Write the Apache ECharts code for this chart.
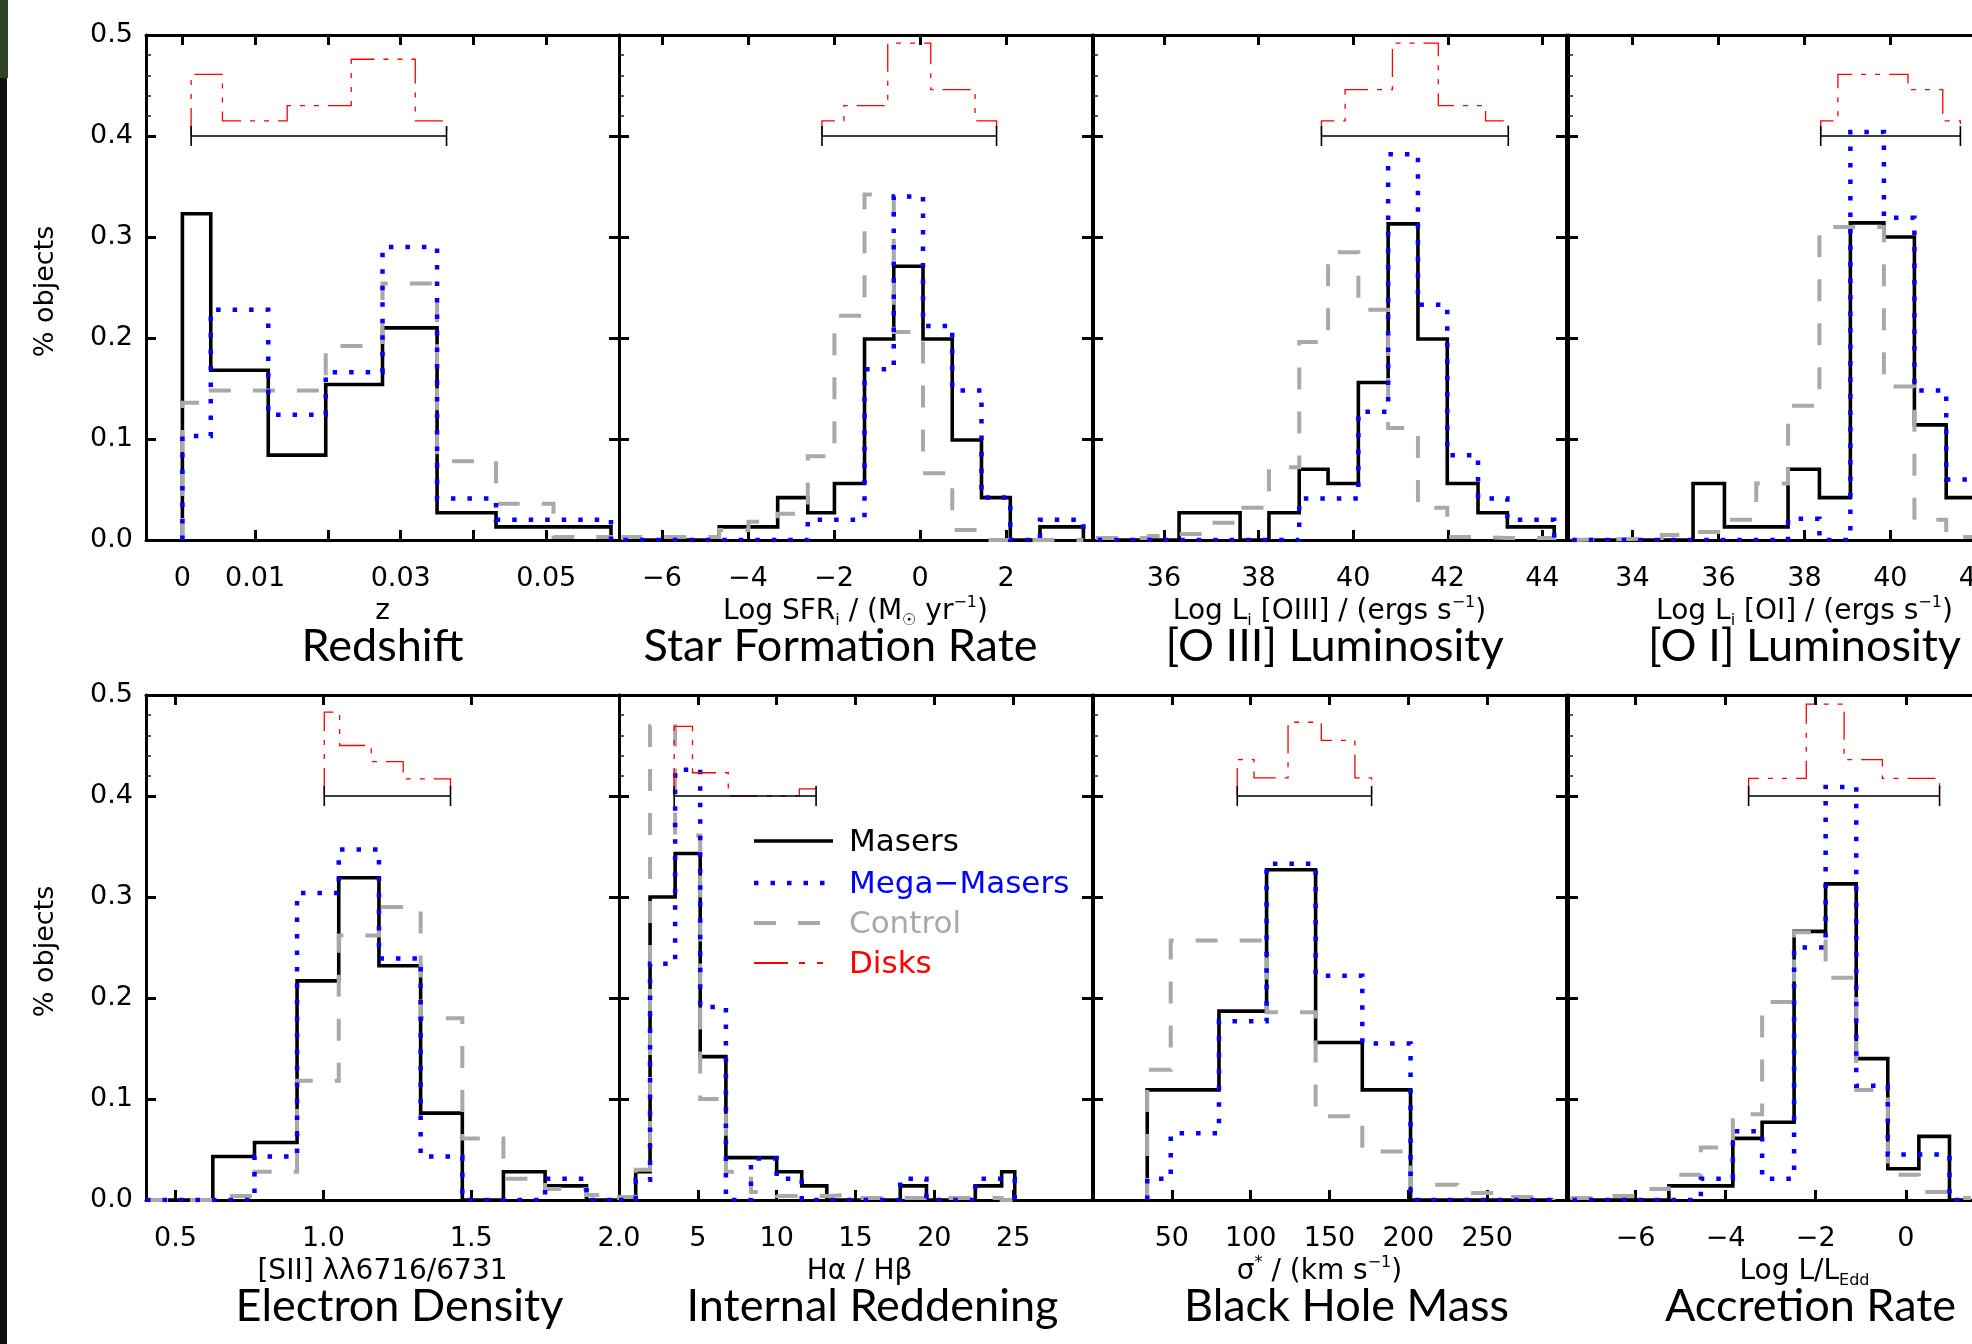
<!DOCTYPE html>
<html>
<head>
<meta charset="UTF-8">
<title>Maser host properties</title>
<script src="https://cdn.jsdelivr.net/npm/echarts@6.0.0/dist/echarts.min.js"></script>
<style>
	html, body { margin: 0; padding: 0; background: #fff; }
	#chart { width: 1972px; height: 1344px; }
</style>
</head>
<body>
<div id="chart"></div>
<script>
// ---- values (fraction of objects per bin) ----
// Redshift
var zEdges = [0, 0.0039, 0.0118, 0.0197, 0.0275, 0.0350, 0.0431, 0.0510, 0.0589];
var zMasers = [0.323, 0.168, 0.084, 0.154, 0.210, 0.027, 0.013, 0.013];
var zMega = [0.103, 0.228, 0.124, 0.166, 0.290, 0.041, 0.020, 0.020];
var zControl = [0.136, 0.148, 0.148, 0.192, 0.254, 0.078, 0.036, 0.003];
var zDiskEdges = [0.0012, 0.0055, 0.0144, 0.0232, 0.0320, 0.0363];
var zDisks = [0.061, 0.015, 0.030, 0.076, 0.015];
var zTicks = [0, 0.01, 0.02, 0.03, 0.04, 0.05];
var zTickLabels = ['0', '0.01', '', '0.03', '', '0.05'];

// Star formation rate
var sfrEdges = [-6.9, -4.67, -3.99, -3.31, -2.61, -1.99, -1.29, -0.61, 0.07, 0.75, 1.43, 2.10, 2.79, 3.80];
var sfrMasers = [0, 0.013, 0.013, 0.042, 0.027, 0.056, 0.199, 0.271, 0.199, 0.099, 0.042, 0, 0.013];
var sfrMega = [0, 0, 0, 0, 0.020, 0.020, 0.169, 0.340, 0.212, 0.148, 0.042, 0, 0.020];
var sfrControl = [0.003, 0.010, 0.018, 0.026, 0.083, 0.222, 0.342, 0.206, 0.066, 0.010, 0, 0, 0];
var sfrDiskEdges = [-2.28, -1.77, -0.75, 0.25, 1.28, 1.78];
var sfrDisks = [0.015, 0.030, 0.092, 0.046, 0.015];
var sfrTicks = [-6, -4, -2, 0, 2];
var sfrTickLabels = ['\u22126', '\u22124', '\u22122', '0', '2'];

// [O III] luminosity
var o3Edges = [34.6, 35.68, 36.32, 36.97, 37.61, 38.22, 38.86, 39.47, 40.11, 40.74, 41.37, 41.99, 42.64, 43.26, 44.25];
var o3Masers = [0, 0, 0.027, 0.027, 0, 0.027, 0.070, 0.056, 0.156, 0.313, 0.199, 0.056, 0.027, 0.013];
var o3Mega = [0, 0, 0, 0, 0, 0, 0.041, 0.041, 0.127, 0.382, 0.233, 0.084, 0.041, 0.020];
var o3Control = [0.002, 0.004, 0.006, 0.017, 0.032, 0.072, 0.196, 0.285, 0.228, 0.111, 0.032, 0.003, 0.002, 0.002];
var o3DiskEdges = [39.33, 39.83, 40.83, 41.80, 42.80, 43.28];
var o3Disks = [0.015, 0.046, 0.092, 0.030, 0.015];
var o3Ticks = [36, 38, 40, 42, 44];
var o3TickLabels = ['36', '38', '40', '42', '44'];

// [O I] luminosity
var o1Edges = [32.6, 33.95, 34.68, 35.41, 36.14, 36.88, 37.62, 38.35, 39.07, 39.85, 40.56, 41.30, 42.03];
var o1Masers = [0, 0, 0, 0.056, 0.013, 0.013, 0.070, 0.042, 0.314, 0.300, 0.114, 0.042];
var o1Mega = [0, 0, 0, 0, 0, 0, 0.021, 0, 0.404, 0.319, 0.148, 0.060];
var o1Control = [0.001, 0.002, 0.005, 0.008, 0.020, 0.056, 0.133, 0.310, 0.310, 0.152, 0.020, 0.003];
var o1DiskEdges = [38.38, 38.78, 40.41, 41.22, 41.63];
var o1Disks = [0.015, 0.061, 0.046, 0.015];
var o1Ticks = [34, 36, 38, 40];
var o1TickLabels = ['34', '36', '38', '40'];

// Electron density
var neEdges = [0.40, 0.626, 0.767, 0.911, 1.052, 1.188, 1.329, 1.470, 1.609, 1.750, 1.890, 2.0];
var neMasers = [0, 0.043, 0.057, 0.217, 0.319, 0.232, 0.086, 0, 0.028, 0.014, 0];
var neMega = [0, 0, 0.043, 0.304, 0.347, 0.239, 0.043, 0, 0, 0.021, 0];
var neControl = [0, 0.004, 0.028, 0.118, 0.262, 0.290, 0.180, 0.061, 0.021, 0.011, 0.005];
var neDiskEdges = [1.003, 1.055, 1.162, 1.270, 1.430];
var neDisks = [0.083, 0.050, 0.034, 0.017];
var neTicks = [0.5, 1.0, 1.5, 2.0];
var neTickLabels = ['0.5', '1.0', '1.5', '2.0'];

// Internal reddening
var hahbEdges = [0, 1.06, 1.97, 3.56, 5.15, 6.78, 8.37, 10.0, 11.59, 13.18, 14.8, 17.84, 19.5, 22.6, 24.27, 25.1];
var hahbMasers = [0, 0.028, 0.300, 0.343, 0.142, 0.042, 0.042, 0.028, 0.014, 0, 0, 0.014, 0, 0.014, 0.028];
var hahbMega = [0, 0.020, 0.234, 0.426, 0.191, 0, 0.041, 0.021, 0, 0, 0, 0.021, 0, 0.021, 0.021];
var hahbControl = [0.003, 0.030, 0.469, 0.361, 0.100, 0.028, 0.008, 0.004, 0.004, 0.005, 0.002, 0.002, 0.002, 0.002, 0];
var hahbDiskEdges = [3.50, 4.66, 6.93, 11.44, 12.50];
var hahbDisks = [0.069, 0.023, 0, 0.007];
var hahbTicks = [5, 10, 15, 20, 25];
var hahbTickLabels = ['5', '10', '15', '20', '25'];

// Black hole mass (velocity dispersion)
var sigEdges = [34.4, 49.3, 79.9, 110.1, 141.2, 170.8, 201.4, 231, 262, 292];
var sigMasers = [0.109, 0.109, 0.187, 0.327, 0.156, 0.109, 0, 0, 0];
var sigMega = [0.021, 0.066, 0.177, 0.333, 0.222, 0.155, 0, 0, 0];
var sigControl = [0.129, 0.257, 0.257, 0.186, 0.083, 0.048, 0.015, 0.007, 0.003];
var sigDiskEdges = [91.5, 102.1, 123.7, 144.8, 166.1, 176.7];
var sigDisks = [0.036, 0.018, 0.073, 0.055, 0.018];
var sigTicks = [50, 100, 150, 200, 250];
var sigTickLabels = ['50', '100', '150', '200', '250'];

// Accretion rate
var eddEdges = [-7.4, -6.68, -5.97, -5.26, -4.55, -3.84, -3.19, -2.48, -1.78, -1.10, -0.40, 0.29, 0.97, 1.4];
var eddMasers = [0, 0, 0, 0.014, 0.014, 0.061, 0.077, 0.266, 0.313, 0.140, 0.031, 0.063, 0];
var eddMega = [0, 0, 0, 0, 0.021, 0.068, 0.021, 0.250, 0.409, 0.113, 0.045, 0.045, 0];
var eddControl = [0.002, 0.004, 0.011, 0.025, 0.052, 0.085, 0.196, 0.265, 0.220, 0.109, 0.025, 0.008, 0.002];
var eddDiskEdges = [-3.49, -2.21, -1.37, -0.52, 0.75];
var eddDisks = [0.0175, 0.091, 0.036, 0.0175];
var eddTicks = [-6, -4, -2, 0];
var eddTickLabels = ['\u22126', '\u22124', '\u22122', '0'];

// y axis (shared)
var yTicks = [0, 0.1, 0.2, 0.3, 0.4, 0.5];
var yTickLabels = ['0.0', '0.1', '0.2', '0.3', '0.4', '0.5'];
var yMinorTicks = [0.42, 0.44, 0.46, 0.48];
var DISK_BASE = 0.4;   // disk histograms are drawn on top of this level
var CAP = 0.01;        // half height of the range bar end caps

// ---- layout ----
var colLeft = [146, 619, 1093, 1568];
var rowTop = [35, 695];
var PW = 473, PH = 505;
var CANVAS_W = 1972;
var TICK_FONT = 'DejaVu Sans';
var TITLE_FONT = 'Lato';

// last column runs off the page: only the visible part is laid out (min..max = visible range)
var panels = [
	{ edges: zEdges, masers: zMasers, mega: zMega, control: zControl, diskEdges: zDiskEdges, disks: zDisks,
	  min: -0.005, max: 0.06, ticks: zTicks, labels: zTickLabels, col: 0, row: 0,
	  xname: 'z', title: 'Redshift', nameDx: 0, titleDx: 0 },
	{ edges: sfrEdges, masers: sfrMasers, mega: sfrMega, control: sfrControl, diskEdges: sfrDiskEdges, disks: sfrDisks,
	  min: -7, max: 4, ticks: sfrTicks, labels: sfrTickLabels, col: 1, row: 0,
	  xname: 'Log SFR{sub|i} / (M{sub|\u2609} yr{sup|\u22121})', title: 'Star Formation Rate', nameDx: 0, titleDx: -15 },
	{ edges: o3Edges, masers: o3Masers, mega: o3Mega, control: o3Control, diskEdges: o3DiskEdges, disks: o3Disks,
	  min: 34.5, max: 44.5, ticks: o3Ticks, labels: o3TickLabels, col: 2, row: 0,
	  xname: 'Log L{sub|i} [OIII] / (ergs s{sup|\u22121})', title: '[O III] Luminosity', nameDx: 0, titleDx: 5 },
	{ edges: o1Edges, masers: o1Masers, mega: o1Mega, control: o1Control, diskEdges: o1DiskEdges, disks: o1Disks,
	  min: 32.5, max: 41.9, ticks: o1Ticks, labels: o1TickLabels, col: 3, row: 0,
	  xname: 'Log L{sub|i} [OI] / (ergs s{sup|\u22121})', title: '[O I] Luminosity', nameDx: 0, titleDx: 0 },
	{ edges: neEdges, masers: neMasers, mega: neMega, control: neControl, diskEdges: neDiskEdges, disks: neDisks,
	  min: 0.4, max: 2.0, ticks: neTicks, labels: neTickLabels, col: 0, row: 1,
	  xname: '[SII] \u03bb\u03bb6716/6731', title: 'Electron Density', nameDx: 0, titleDx: 17 },
	{ edges: hahbEdges, masers: hahbMasers, mega: hahbMega, control: hahbControl, diskEdges: hahbDiskEdges, disks: hahbDisks,
	  min: 0, max: 30, ticks: hahbTicks, labels: hahbTickLabels, col: 1, row: 1,
	  xname: 'H\u03b1 / H\u03b2', title: 'Internal Reddening', nameDx: 4, titleDx: 17 },
	{ edges: sigEdges, masers: sigMasers, mega: sigMega, control: sigControl, diskEdges: sigDiskEdges, disks: sigDisks,
	  min: 0, max: 300, ticks: sigTicks, labels: sigTickLabels, col: 2, row: 1,
	  xname: '\u03c3{sup|*} / (km s{sup|\u22121})', title: 'Black Hole Mass', nameDx: -10, titleDx: 17 },
	{ edges: eddEdges, masers: eddMasers, mega: eddMega, control: eddControl, diskEdges: eddDiskEdges, disks: eddDisks,
	  min: -7.5, max: 1.47, ticks: eddTicks, labels: eddTickLabels, col: 3, row: 1,
	  xname: 'Log L/L{sub|Edd}', title: 'Accretion Rate', nameDx: 0, titleDx: 6 }
];

var styles = {
	masers:  { color: '#000000', width: 3.6, type: 'solid' },
	control: { color: '#a9a9a9', width: 4,   type: [22, 22] },
	mega:    { color: '#0000ff', width: 4.5, type: [4.5, 12] },
	disks:   { color: '#ff0000', width: 1.3, type: [28, 9, 5, 9, 5, 9] }
};

// histogram outline from bin edges and bin heights
function stepPoints(edges, vals, base) {
	var pts = [[edges[0], base]];
	for (var i = 0; i < vals.length; i++) {
		pts.push([edges[i], base + vals[i]]);
		pts.push([edges[i + 1], base + vals[i]]);
	}
	pts.push([edges[edges.length - 1], base]);
	return pts;
}

function rangeBar(edges) {
	var a = edges[0], b = edges[edges.length - 1];
	return [[a, DISK_BASE + CAP], [a, DISK_BASE - CAP], [a, DISK_BASE], [b, DISK_BASE],
		[b, DISK_BASE + CAP], [b, DISK_BASE - CAP]];
}

function lineSeries(data, st, xi, yi, z) {
	return {
		type: 'line', data: data, xAxisIndex: xi, yAxisIndex: yi,
		symbol: 'none', silent: true, animation: false, z: z,
		lineStyle: { color: st.color, width: st.width, type: st.type, cap: 'butt', join: 'miter' }
	};
}

function labelFor(ticks, labels) {
	return function(v) {
		for (var k = 0; k < ticks.length; k++) {
			if (Math.abs(ticks[k] - v) < 1e-9) return labels[k];
		}
		return '';
	};
}

var frameLine = { show: true, onZero: false, lineStyle: { color: '#000', width: 3 } };
var frameTick = { show: true, inside: true, length: 10, lineStyle: { color: '#000', width: 3 } };

var grids = [], xAxes = [], yAxes = [], series = [], graphics = [];

panels.forEach(function(p) {
	var left = colLeft[p.col], top = rowTop[p.row];
	var w = Math.min(PW, CANVAS_W - left);
	var cut = w < PW;
	var g = grids.length;
	grids.push({ left: left, top: top, width: w, height: PH });
	grids.push({ left: left, top: top, width: w, height: PH * 0.2 });

	var labelVals = p.ticks.filter(function(t, k) { return p.labels[k] !== ''; });
	var xi = xAxes.length;
	xAxes.push({
		gridIndex: g, type: 'value', min: p.min, max: p.max, position: 'bottom',
		axisLine: frameLine,
		axisTick: Object.assign({ customValues: p.ticks }, frameTick),
		axisLabel: { show: true, customValues: labelVals, formatter: labelFor(p.ticks, p.labels),
			margin: 25, fontSize: 27, fontFamily: TICK_FONT, color: '#000' },
		splitLine: { show: false }
	});
	xAxes.push({
		gridIndex: g, type: 'value', min: p.min, max: p.max, position: 'top',
		axisLine: frameLine,
		axisTick: Object.assign({ customValues: p.ticks }, frameTick),
		axisLabel: { show: false }, splitLine: { show: false }
	});
	xAxes.push({ gridIndex: g + 1, type: 'value', min: 0, max: 1, show: false });

	var yi = yAxes.length;
	yAxes.push({
		gridIndex: g, type: 'value', min: 0, max: 0.5, position: 'left',
		axisLine: frameLine,
		axisTick: Object.assign({ customValues: yTicks }, frameTick),
		axisLabel: { show: p.col === 0, customValues: yTicks, formatter: labelFor(yTicks, yTickLabels),
			margin: 13, fontSize: 27, fontFamily: TICK_FONT, color: '#000' },
		splitLine: { show: false }
	});
	yAxes.push({
		gridIndex: g, type: 'value', min: 0, max: 0.5, position: 'right', show: !cut,
		axisLine: frameLine,
		axisTick: Object.assign({ customValues: yTicks }, frameTick),
		axisLabel: { show: false }, splitLine: { show: false }
	});
	yAxes.push({
		gridIndex: g + 1, type: 'value', min: 0.4, max: 0.5, position: 'left',
		axisLine: { show: false },
		axisTick: { show: true, inside: true, length: 5, customValues: yMinorTicks, lineStyle: { color: '#222', width: 1.5 } },
		axisLabel: { show: false }, splitLine: { show: false }
	});

	series.push(lineSeries(stepPoints(p.edges, p.masers, 0), styles.masers, xi, yi, 3));
	series.push(lineSeries(stepPoints(p.edges, p.control, 0), styles.control, xi, yi, 4));
	series.push(lineSeries(stepPoints(p.edges, p.mega, 0), styles.mega, xi, yi, 5));
	series.push(lineSeries(stepPoints(p.diskEdges, p.disks, DISK_BASE), styles.disks, xi, yi, 6));
	series.push(lineSeries(rangeBar(p.diskEdges), { color: '#000', width: 1.6, type: 'solid' }, xi, yi, 7));

	var cx = left + PW / 2;
	var y0 = top + PH;
	graphics.push({
		type: 'text', x: cx + p.nameDx, y: y0 + 72, silent: true,
		style: {
			text: p.xname, align: 'center', verticalAlign: 'middle',
			fontSize: 28, fontFamily: TICK_FONT, fill: '#000', lineHeight: 34,
			rich: {
				sub: { fontSize: 16, fontFamily: TICK_FONT, lineHeight: 16, verticalAlign: 'bottom' },
				sup: { fontSize: 16, fontFamily: TICK_FONT, lineHeight: 16, verticalAlign: 'top' }
			}
		}
	});
	graphics.push({
		type: 'text', x: cx + p.titleDx, y: y0 + 106, silent: true,
		style: { text: p.title, align: 'center', verticalAlign: 'middle', fontSize: 45, fontFamily: TITLE_FONT, fill: '#000' }
	});
	if (p.col === 0) {
		graphics.push({
			type: 'text', x: 46, y: top + PH / 2 + 4, rotation: Math.PI / 2, silent: true,
			style: { text: '% objects', align: 'center', verticalAlign: 'middle', fontSize: 27, fontFamily: TICK_FONT, fill: '#000' }
		});
	}
});

// partly visible tick label at the cut page edge
graphics.push({ type: 'text', x: 1976, y: 579, silent: true,
	style: { text: '42', align: 'center', verticalAlign: 'middle', fontSize: 27, fontFamily: TICK_FONT, fill: '#000' } });

// legend inside the Internal Reddening panel
var legendItems = [
	{ name: 'Masers', style: styles.masers, y: 843 },
	{ name: 'Mega\u2212Masers', style: styles.mega, y: 885 },
	{ name: 'Control', style: styles.control, y: 925 },
	{ name: 'Disks', style: { color: '#ff0000', width: 2, type: [34, 11, 6, 12, 6, 100] }, y: 965 }
];
legendItems.forEach(function(it) {
	graphics.push({
		type: 'line', silent: true,
		shape: { x1: 754, y1: it.y - 2, x2: 833, y2: it.y - 2 },
		style: { stroke: it.style.color, lineWidth: it.style.width, lineDash: it.style.type === 'solid' ? null : it.style.type }
	});
	graphics.push({
		type: 'text', x: 849, y: it.y, silent: true,
		style: { text: it.name, align: 'left', verticalAlign: 'middle', fontSize: 31, fontFamily: TICK_FONT, fill: it.style.color }
	});
});

// scanned page edge on the far left
graphics.push({ type: 'rect', silent: true, shape: { x: 0, y: 0, width: 8, height: 78 }, style: { fill: '#2e4424' } });
graphics.push({ type: 'rect', silent: true, shape: { x: 0, y: 78, width: 7, height: 1266 }, style: { fill: '#111' } });

var chart = echarts.init(document.getElementById('chart'), null, { renderer: 'canvas' });
chart.setOption({
	backgroundColor: '#ffffff',
	animation: false,
	grid: grids,
	xAxis: xAxes,
	yAxis: yAxes,
	series: series,
	graphic: graphics
});
</script>
</body>
</html>
